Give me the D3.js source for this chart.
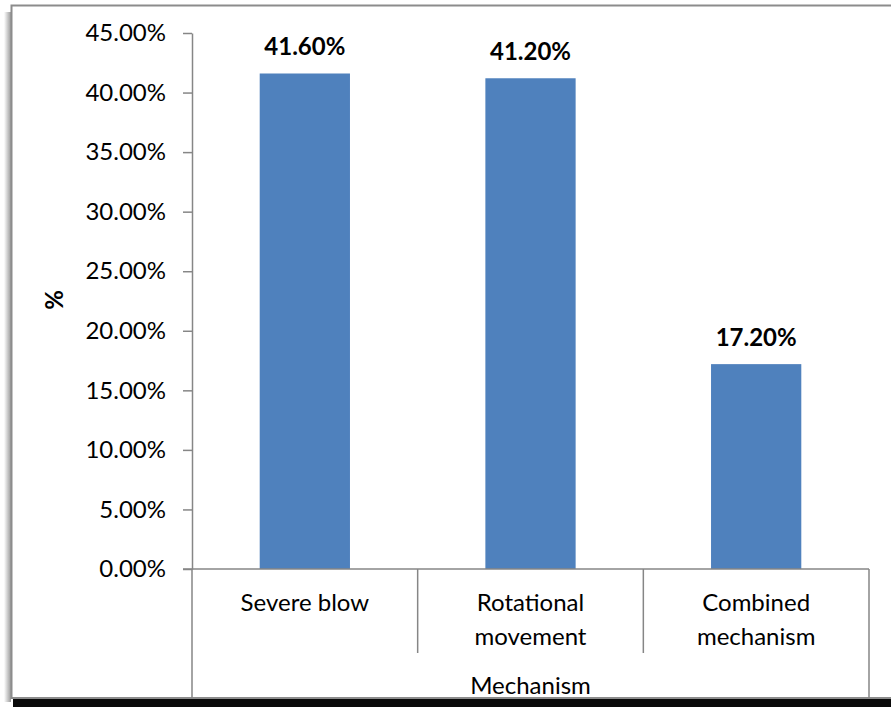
<!DOCTYPE html>
<html>
<head>
<meta charset="utf-8">
<script src="https://cdn.jsdelivr.net/npm/d3@7"></script>
<style>
  body { margin: 0; background: #fff; }
  svg text { font-family: "Lato", "Open Sans", sans-serif; fill: #000; }
</style>
</head>
<body>
<svg width="891" height="707"></svg>
<script>
// chart data
const categories = ["Severe blow", "Rotational movement", "Combined mechanism"]
const catLines = [["Severe blow"], ["Rotational", "movement"], ["Combined", "mechanism"]]
const values = [41.6, 41.2, 17.2]
const yTicks = [0, 5, 10, 15, 20, 25, 30, 35, 40, 45]
const xTitle = "Mechanism"
const yTitle = "%"

const svg = d3.select("svg")
const fs = "24px"

// frame with the drop shadow (dark strip at the bottom, soft one on the left)
const defs = svg.append("defs")
const grad = defs.append("linearGradient").attr("id", "lshadow")
grad.append("stop").attr("offset", "0%").attr("stop-color", "#fff")
grad.append("stop").attr("offset", "100%").attr("stop-color", "#9a9a9a")
svg.append("rect").attr("x", 4).attr("y", 12).attr("width", 7).attr("height", 690).attr("fill", "url(#lshadow)")
svg.append("rect").attr("x", 13).attr("y", 699).attr("width", 878).attr("height", 8).attr("fill", "#0a0a0a")
svg.append("rect").attr("x", 11.5).attr("y", 5.5).attr("width", 900).attr("height", 692.5)
    .attr("fill", "#fff").attr("stroke", "#8c8c8c").attr("stroke-width", 2)

const pLeft = 192, pRight = 869, pTop = 33, pBottom = 569

const x = d3.scaleBand().domain(categories).range([pLeft, pRight]).padding(0)
const y = d3.scaleLinear().domain([0, 45]).range([pBottom, pTop])
const fmt = d => d.toFixed(2) + "%"

// y axis
const yAxis = svg.append("g")
    .attr("transform", "translate(" + pLeft + ",0)")
    .call(d3.axisLeft(y).tickValues(yTicks).tickFormat(fmt).tickSize(9).tickPadding(17).tickSizeOuter(0))
yAxis.select(".domain").attr("stroke", "#868686").attr("stroke-width", 1.5)
yAxis.selectAll(".tick line").attr("stroke", "#868686").attr("stroke-width", 1.5)
yAxis.selectAll(".tick text").style("font-size", fs).style("font-family", "Lato, 'Open Sans', sans-serif").attr("fill", "#000")

// bars
const barW = x.bandwidth() * 0.4
svg.selectAll("rect.bar")
    .data(values)
    .enter()
    .append("rect")
    .attr("class", "bar")
    .attr("x", (d, i) => x(categories[i]) + (x.bandwidth() - barW) / 2)
    .attr("y", d => y(d))
    .attr("width", barW)
    .attr("height", d => pBottom - y(d))
    .attr("fill", "#4f81bd")

// value labels
svg.selectAll("text.val")
    .data(values)
    .enter()
    .append("text")
    .attr("class", "val")
    .attr("x", (d, i) => x(categories[i]) + x.bandwidth() / 2)
    .attr("y", d => y(d) - 18)
    .attr("text-anchor", "middle")
    .style("font-size", fs)
    .style("font-weight", "bold")
    .text(d => d.toFixed(2) + "%")

// x axis drawn as the table-like category box
const ax = svg.append("g").attr("stroke", "#868686").attr("stroke-width", 1.5)
ax.append("line").attr("x1", pLeft - 9).attr("x2", pRight).attr("y1", pBottom).attr("y2", pBottom)
categories.slice(1).forEach(c => {
    ax.append("line").attr("x1", x(c)).attr("x2", x(c)).attr("y1", pBottom).attr("y2", 653)
})
ax.append("line").attr("x1", pLeft).attr("x2", pLeft).attr("y1", pBottom).attr("y2", 698)
ax.append("line").attr("x1", pRight).attr("x2", pRight).attr("y1", pBottom).attr("y2", 698)

catLines.forEach((lines, i) => {
    const cx = x(categories[i]) + x.bandwidth() / 2
    const t = svg.append("text")
        .attr("x", cx)
        .attr("y", 611)
        .attr("text-anchor", "middle")
        .style("font-size", fs)
    lines.forEach((l, j) => t.append("tspan").attr("x", cx).attr("dy", j ? 34 : 0).text(l))
})

svg.append("text")
    .attr("x", (pLeft + pRight) / 2)
    .attr("y", 694)
    .attr("text-anchor", "middle")
    .style("font-size", fs)
    .text(xTitle)

svg.append("text")
    .attr("transform", "translate(63,300) rotate(-90)")
    .attr("text-anchor", "middle")
    .style("font-size", fs)
    .style("font-weight", "bold")
    .text(yTitle)
</script>
</body>
</html>
